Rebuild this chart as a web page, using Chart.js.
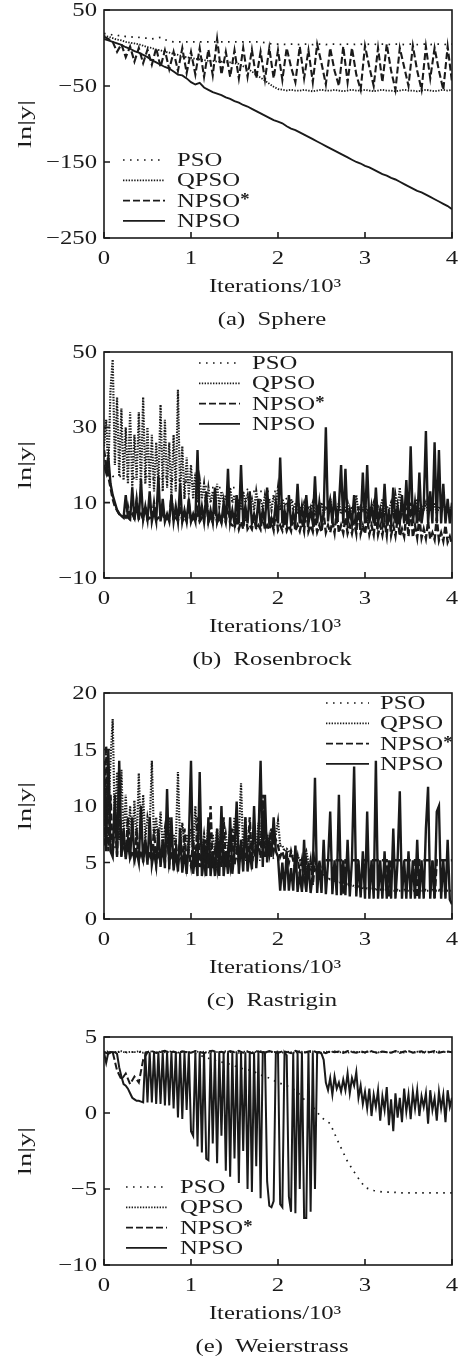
<!DOCTYPE html>
<html>
<head>
<meta charset="utf-8">
<script src="https://cdn.jsdelivr.net/npm/chart.js@4.4.0/dist/chart.umd.min.js"></script>
<style>
  html, body { margin: 0; padding: 0; background: #fff; }
  body { width: 459px; height: 1360px; position: relative; overflow: hidden; }
  canvas { position: absolute; left: 0; }
</style>
</head>
<body>
<canvas id="sphere" width="459" height="340" style="top:0px"></canvas>
<canvas id="rosenbrock" width="459" height="340" style="top:340px"></canvas>
<canvas id="rastrigin" width="459" height="340" style="top:680px"></canvas>
<canvas id="weierstrass" width="459" height="340" style="top:1020px"></canvas>
<script>
// iterations, in thousands
var itersBy25 = Array.from({ length: 161 }, function (_, i) { return i * 0.025; });
var itersBy50 = Array.from({ length: 81 }, function (_, i) { return i * 0.05; });
var itersBy100 = Array.from({ length: 41 }, function (_, i) { return i * 0.1; });

var seriesNames = ['PSO', 'QPSO', 'NPSO*', 'NPSO'];
var xTicks = [0, 1, 2, 3, 4];

// (a) Sphere
var spherePso = [
    19, 19, 17, 16, 17, 15, 14, 15, 14, 13,
    13, 12, 13, 14, 11, 9, 8, 8, 8, 8,
    8, 8, 8, 8, 8, 8, 8, 8, 8, 8,
    8, 8, 8, 8, 8, 8, 8, 7, 6, 5,
    5, 5, 4.5, 5, 5, 4.5, 5, 5, 4.5, 5,
    5, 4.5, 5, 5, 4.5, 5, 5, 4.5, 5, 5,
    4.5, 5, 5, 4.5, 5, 5, 4.5, 5, 5, 4.5,
    5, 5, 4.5, 5, 5, 4.5, 5, 5, 4.5, 5,
    5];
var sphereQpso = [
    16, 15, 13, 11, 10, 8, 7, 6, 5, 3,
    1, 0, -2, -3, -5, -6, -8, -9, -11, -12,
    -13, -14, -15, -16, -17, -17, -18, -18, -19, -19,
    -20, -21, -24, -27, -31, -35, -39, -43, -47, -51,
    -54, -55, -56, -55, -56, -56, -55, -56, -57, -56,
    -55, -56, -56, -55, -56, -57, -56, -55, -56, -56,
    -55, -56, -57, -56, -55, -56, -56, -57, -56, -55,
    -56, -56, -57, -56, -55, -56, -57, -56, -55, -56,
    -55];
var sphereNpsoStar = [
    15, 12, 8, -5, 5, -12, 2, -18, 0, -20,
    -2, -22, 0, -25, -3, -28, -5, -30, 0, -33,
    -5, -35, 0, -38, -2, -36, 12, -35, -5, -38,
    -3, -40, 0, -38, -2, -40, -5, -42, 0, -40,
    -3, -42, 0, -25, -45, 2, -40, -3, -45, 5,
    -20, -48, 0, -30, -50, 2, -45, 0, -35, -55,
    3, -25, -50, 0, -45, 5, -30, -55, 0, -25,
    -50, 3, -30, -55, 2, -40, 0, -30, -55, 2,
    -45];
var sphereNpso = [
    12, 10, 8, 6, 4, 1, -1, -4, -6, -9,
    -12, -16, -19, -22, -25, -27, -31, -35, -36, -40,
    -45, -48, -46, -52, -55, -58, -60, -62, -65, -67,
    -70, -72, -75, -77, -80, -83, -86, -89, -92, -95,
    -97, -99, -103, -106, -108, -111, -114, -117, -120, -123,
    -126, -129, -132, -135, -138, -141, -144, -147, -150, -152,
    -155, -157, -160, -163, -166, -168, -171, -173, -176, -179,
    -182, -185, -188, -190, -193, -196, -199, -202, -205, -208,
    -212];

// (b) Rosenbrock
var rosenPso = [
    20, 17, 17, 17, 16, 17, 16, 17, 16, 16,
    15, 15, 14, 14, 14, 14, 14, 13, 13, 13,
    13, 11, 10, 9, 9, 9, 8, 8, 8, 8,
    8, 8, 8, 8, 8, 8, 8, 8, 8, 8,
    8];
var rosenQpso = [
    25, 32, 18, 40, 48, 20, 38, 17, 35, 16,
    30, 15, 34, 14, 28, 16, 34, 14, 38, 15,
    30, 14, 28, 13, 26, 14, 36, 13, 32, 14,
    26, 12, 28, 13, 40, 12, 25, 11, 22, 12,
    20, 11, 18, 10, 16, 11, 15, 9, 14, 10,
    13, 9, 15, 9, 13, 10, 12, 9, 14, 10,
    12, 9, 11, 8, 13, 10, 12, 9, 11, 8,
    13, 9, 11, 8, 12, 9, 11, 8, 12, 9,
    14, 8, 11, 9, 10, 8, 11, 8, 10, 7,
    9, 8, 10, 7, 9, 8, 10, 7, 9, 8,
    10, 7, 9, 8, 11, 7, 9, 8, 10, 7,
    9, 8, 10, 7, 9, 8, 12, 7, 9, 8,
    10, 7, 9, 8, 10, 7, 9, 8, 11, 7,
    9, 8, 10, 7, 12, 8, 14, 7, 9, 8,
    10, 7, 9, 8, 11, 7, 9, 8, 10, 7,
    9, 8, 10, 7, 9, 8, 11, 7, 9, 8,
    9];
var rosenNpsoStar = [
    24, 20, 17, 14, 11, 9, 8, 7, 6.5, 6.2,
    6, 9, 6, 7, 5.8, 11, 5.8, 7, 5.6, 9,
    5.5, 6, 5.5, 10, 5.4, 6, 5.4, 8, 5.3, 6,
    5.3, 12, 5.2, 6, 5.2, 9, 5.1, 6, 5.1, 10,
    5, 6, 5, 8, 5, 6, 4.9, 13, 4.9, 6,
    4.8, 9, 4.8, 6, 4.7, 7, 4.7, 10, 4.5, 4,
    3.2, 6, 3, 5, 3, 8, 3, 4, 3, 6,
    2.9, 4, 2.9, 7, 2.8, 4, 2.8, 5, 2.7, 8,
    2.7, 4, 2.6, 6, 2.6, 4, 2.5, 7, 2.5, 4,
    2.4, 5, 2.4, 9, 2.3, 4, 2.3, 6, 2.2, 4,
    2.2, 7, 2.1, 4, 2.1, 5, 2, 8, 2, 4,
    1.9, 6, 1.9, 4, 1.8, 5, 1.8, 9, 1.7, 4,
    1.7, 6, 1.6, 4, 1.5, 7, 1.5, 4, 1.4, 5,
    1.3, 8, 1.3, 4, 1.2, 6, 1.1, 3, 1, 7,
    1, 10, 0.8, 4, 0.7, 6, 0.6, 3, 0.5, 5,
    0.3, 2, 0.2, 6, 0, 2, -0.2, 4, -0.5, 1,
    -1];
var rosenNpso = [
    20, 18, 22, 15, 12, 10, 8, 7, 6.5, 6,
    12, 6, 5.5, 14, 5.5, 10, 5.5, 16, 5.5, 9,
    5.5, 13, 5, 8, 5, 17, 5, 11, 5, 7,
    5, 12, 5, 9, 5, 15, 5, 8, 5, 11,
    5, 7, 5, 24, 5, 9, 5, 12, 5, 8,
    4.8, 14, 4.8, 7, 4.8, 10, 4.8, 19, 4.8, 8,
    4.5, 12, 4.5, 20, 4.5, 9, 4.5, 13, 4.5, 7,
    4.5, 11, 4.5, 8, 4.5, 14, 4.5, 6, 4.5, 10,
    4.5, 22, 4.5, 8, 4.5, 12, 4.5, 7, 4.5, 15,
    4.5, 9, 4.5, 12, 4.5, 8, 4.5, 17, 4.5, 10,
    4.5, 7, 30, 5, 11, 4.5, 13, 4.5, 9, 20,
    4.5, 19, 4.5, 8, 4.5, 12, 4.5, 7, 4.5, 18,
    4.5, 20, 4.5, 9, 4.5, 14, 4.5, 8, 4.5, 15,
    4.5, 7, 4.5, 14, 4.5, 9, 4.5, 12, 4.5, 16,
    4.5, 25, 4.5, 10, 4.5, 18, 4.5, 9, 29, 4.5,
    13, 4.5, 26, 4.5, 24, 4.5, 15, 4.5, 11, 4.5,
    10];

// (c) Rastrigin
var rastPso = [
    8, 6.5, 6, 6, 5.8, 5.8, 5.6, 5.5, 5.5, 5.3,
    5.3, 5.2, 5.2, 5.2, 5.2, 5.2, 5.2, 5.2, 5.2, 5.2,
    5.6, 5.4, 5.3, 5.2, 4.5, 4, 3.5, 3.2, 3, 2.8,
    2.7, 2.6, 2.6, 2.6, 2.6, 2.6, 2.6, 2.6, 2.6, 2.6,
    2.6];
var rastQpso = [
    7, 12, 9, 14, 17.7, 8, 13, 7, 13.2, 7,
    11, 6.5, 10, 7, 10.5, 6.5, 12.9, 7, 11, 7,
    9, 8, 14, 7, 9, 6.5, 9.5, 6.5, 8, 6.5,
    9, 6.5, 7.5, 6.5, 13, 6.5, 8.5, 6.5, 7.5, 6,
    8, 6.2, 10, 6, 9, 6, 7.5, 5.8, 8.5, 5.8,
    7.5, 5.8, 8, 5.8, 9, 5.8, 7.5, 6, 8, 6,
    9, 6, 7.5, 12, 6, 9, 6, 8, 6, 7.5,
    6, 8.5, 6.5, 10.5, 6.5, 7.5, 6.5, 8, 7, 7.5,
    8.7, 6.5, 6.5, 6, 6.2, 6, 5.8, 5.5, 5.5, 5.6,
    5.2, 5.3, 5.5, 6, 5, 4.8, 4.6, 4.4, 4.2, 4,
    3.9, 3.8, 3.7, 3.6, 3.5, 3.5, 3.4, 3.3, 3.3, 3.2,
    3.2, 3.1, 3.1, 3, 3, 2.9, 2.9, 2.9, 2.8, 2.8,
    2.8, 2.7, 2.7, 2.7, 2.7, 2.6, 2.6, 2.6, 2.6, 2.6,
    2.6, 2.5, 2.5, 2.5, 2.5, 2.5, 2.5, 2.5, 2.5, 2.5,
    2.5, 2.5, 2.5, 2.5, 2.5, 2.5, 2.5, 2.5, 2.5, 2.5,
    2.5, 2.5, 2.5, 2.5, 2.5, 2.5, 2.5, 2.5, 2.5, 2.5,
    2.5];
var rastNpsoStar = [
    6.5, 15.3, 6, 11, 5.8, 9, 5.7, 12, 5.6, 7,
    5.5, 9, 5.4, 6, 5.3, 8, 5.2, 6, 5.2, 7,
    5.1, 6, 5.1, 8, 5, 6, 5, 7, 5, 9,
    4.9, 6, 4.9, 7, 4.8, 6, 4.8, 8, 4.7, 6,
    4.7, 7, 4.6, 9, 4.6, 6, 4.6, 7, 4.5, 10,
    4.5, 6, 4.5, 7, 4.6, 9, 4.6, 6, 4.7, 8,
    4.8, 6, 4.8, 7, 4.9, 6, 5, 9, 5, 6,
    5.2, 7, 5.4, 11, 5.5, 7, 5.8, 8, 6, 7,
    6.5, 5.5, 6, 5.2, 5.8, 5, 6, 5.2, 4.5, 5.5,
    4, 5.2, 3.5, 5.2, 4, 5.2, 3, 5.2, 4, 5.2,
    3.5, 5.2, 5.2, 5.2, 5.2, 5.2, 5.2, 5.2, 5.2, 5.2,
    2.2, 5.2, 5.2, 5.2, 5.2, 5.2, 5.2, 5.2, 5.2, 5.2,
    5.2, 5.2, 5.2, 5.2, 5.2, 5.2, 5.2, 5.2, 5.2, 5.2,
    5.2, 2, 5.2, 5.2, 5.2, 5.2, 5.2, 5.2, 5.2, 5.2,
    5.2, 5.2, 5.2, 5.2, 1.9, 5.2, 5.2, 5.2, 5.2, 5.2,
    5.2, 5.2, 1.8, 5.2, 5.2, 5.2, 5.2, 5.2, 5.2, 5.2,
    5.2];
var rastNpso = [
    14, 6, 15, 6, 5.5, 11, 5.5, 14, 5.5, 8,
    5.3, 7, 5.3, 9, 5.2, 6, 5, 10, 5, 7,
    4.8, 9, 4.8, 6, 4.7, 8, 4.6, 7, 4.5, 11.5,
    4.4, 9, 4.3, 6, 4.2, 8, 4.1, 6, 4, 7,
    14, 4, 6, 3.8, 13, 3.8, 7, 3.8, 9, 3.8,
    6, 3.8, 8, 3.8, 10, 3.8, 6, 4, 9, 4,
    6, 10.4, 4, 7, 4.2, 9, 4.2, 6, 4.4, 10,
    4.5, 7, 14, 4.6, 11, 5, 7, 5.5, 9, 6,
    5.5, 2.5, 5, 2.5, 6, 2.5, 4.5, 2.5, 6.5, 2.4,
    4, 2.4, 7, 2.4, 5, 2.3, 4, 12.5, 2.3, 5,
    2.3, 7, 2.2, 5, 9.5, 2.2, 5.2, 2.1, 11, 2.1,
    5.2, 2.1, 7, 2, 5.2, 13.5, 2, 5.2, 1.9, 6,
    1.8, 9.5, 1.8, 5.2, 1.8, 14, 1.8, 5.2, 1.8, 6,
    1.8, 5.2, 1.8, 8, 1.8, 5.2, 11.3, 1.8, 5.2, 1.8,
    6, 1.8, 5.2, 1.8, 7, 1.8, 5.2, 1.8, 8, 11.7,
    1.8, 5.2, 1.8, 9.5, 10, 1.8, 5.2, 1.8, 7, 1.7,
    1.3];

// (e) Weierstrass
var weierPso = [
    4, 4, 4, 4, 4, 4, 4, 4, 4, 4,
    4, 3.8, 3.6, 3.4, 3.3, 3.1, 2.9, 2.8, 2.5, 2.3,
    2, 1.8, 1.5, 0.9, 0.4, -0.3, -0.7, -2, -3.2, -4.1,
    -4.9, -5.1, -5.2, -5.2, -5.25, -5.25, -5.25, -5.25, -5.25, -5.25,
    -5.25];
var weierQpso = [
    4, 4.05, 3.98, 4.02, 4.06, 3.97, 4.03, 4, 4.07, 3.96,
    4.02, 4.05, 3.98, 4.04, 3.99, 4.06, 4, 3.97, 4.05, 4.02,
    3.98, 4.06, 4, 4.03, 3.97, 4.05, 4.01, 3.98, 4.06, 4,
    4.04, 3.96, 4.03, 4.05, 3.99, 4.02, 4.07, 3.97, 4.03, 4,
    4.05, 3.98, 4.04, 4, 3.96, 4.06, 4.01, 3.98, 4.05, 4.02,
    3.97, 4.04, 4, 4.06, 3.98, 4.03, 3.96, 4.05, 4, 4.02,
    3.97, 4.06, 4.01, 3.98, 4.04, 4, 3.97, 4.05, 4.02, 3.98,
    4.06, 4, 4.03, 3.97, 4.04, 4.01, 3.98, 4.05, 4, 4.03,
    4.02];
var weierNpsoStar = [
    4, 3.9, 4, 2.8, 2.2, 2.6, 1.9, 2.4, 2, 3.5,
    4, 4.08, 3.95, 4.03, 4.1, 3.97, 4.05, 3.93, 4.06, 4,
    3.96, 4.08, 4.01, 3.94, 4.05, 4.1, 3.98, 4.03, 3.95, 4.07,
    4, 4.09, 3.96, 4.04, 3.93, 4.06, 4.01, 3.97, 4.08, 4,
    3.95, 4.06, 4.02, 3.94, 4.09, 4, 3.96, 4.05, 4.1, 3.97,
    4.03, 3.93, 4.07, 4, 4.05, 3.95, 4.08, 4.01, 3.96, 4.06,
    3.98, 4.1, 4.02, 3.94, 4.05, 4, 3.97, 4.08, 3.95, 4.04,
    4.09, 3.96, 4.02, 4.06, 3.94, 4.01, 4.07, 3.97, 4.03, 4.05,
    4];
var weierNpso = [
    4, 3.3, 4, 4, 4, 4, 3.9, 3, 2.4, 1.9,
    1.8, 1.6, 1.3, 1, 0.9, 0.8, 0.8, 0.75, 0.7, 4,
    0.7, 4, 0.7, 4, 0.6, 4, 0.6, 4, 0.5, 4,
    0.5, 4, 0.3, 4, -0.3, 4, -0.4, 4, 0.2, 4,
    -1.2, -1.5, 4, -2.2, 4, -2.6, 4, -3, -3.1, 4,
    -2, 4, -3.3, 4, -1.5, 4, -3.8, 4, -4.2, 4,
    -3, 4, -4.6, 4, -2.5, 4, -5, 4, -5.2, 4,
    -3.5, 4, -5.6, 4, 4, -4.5, -6.1, -6.2, -5.8, 4,
    4, -6, -6.2, 4, 3.8, -5.5, -6.5, 4, -6.6, 4,
    -5, 4, -6.9, -6.9, 4, -6.5, 4, -5, 4, 4,
    3.9, 3.5, 2, 1.5, 2.3, 1.2, 2.4, 1.6, 2, 1.4,
    2.2, 1.5, 2.6, 1.3, 2.3, 1.8, 2.7, 1, 1.8, 0.6,
    1.4, 0.3, 1.6, -0.2, 1.2, 0.4, 1.5, -0.5, 1.1, 0.2,
    1.7, -0.8, 0.9, -1.2, 1.3, -0.3, 1, -0.6, 1.6, 0.1,
    1.2, -0.4, 1.4, 0.3, 1.5, -0.2, 1.1, 0.4, 1.3, -0.7,
    1.5, 0.2, 1, -0.5, 1.4, 0.3, 1.2, -0.6, 1.5, 0.4,
    1];

var INK = '#1a1a1a';
var FONT = "19px 'Liberation Serif', 'Times New Roman', serif";
var SUP_FONT = "bold 17px 'Liberation Serif', 'Times New Roman', serif";
var STRETCH = 1.3;
var dashes = { 'PSO': [1.6, 5.4], 'QPSO': [1.4, 1.4], 'NPSO*': [7, 3], 'NPSO': [] };
var legendWidths = { 'PSO': 1.7, 'QPSO': 1.7, 'NPSO*': 1.9, 'NPSO': 1.9 };

function minus(v) {
    return v < 0 ? '\u2212' + Math.abs(v) : String(v);
}

// text drawn wider than the font, the way the figure's type is set
function wideText(ctx, text, x, y, align, stretch) {
    ctx.save();
    ctx.translate(x, y);
    ctx.scale(stretch || STRETCH, 1);
    ctx.textAlign = align;
    ctx.textBaseline = 'alphabetic';
    ctx.fillText(text, 0, 0);
    ctx.restore();
}

var paperAxes = {
    id: 'paperAxes',
    afterDraw: function (chart, args, opts) {
        var ctx = chart.ctx;
        var area = chart.chartArea;
        var xs = chart.scales.x, ys = chart.scales.y;
        var lg = opts.legend;
        ctx.save();
        ctx.strokeStyle = INK;
        ctx.fillStyle = INK;
        ctx.setLineDash([]);
        ctx.lineWidth = 1.6;
        ctx.strokeRect(area.left, area.top, area.right - area.left, area.bottom - area.top);

        // inward ticks
        ctx.beginPath();
        ys.ticks.forEach(function (t) {
            var y = ys.getPixelForValue(t.value);
            ctx.moveTo(area.left, y); ctx.lineTo(area.left + 6, y);
        });
        xs.ticks.forEach(function (t) {
            var x = xs.getPixelForValue(t.value);
            ctx.moveTo(x, area.bottom); ctx.lineTo(x, area.bottom - 6);
        });
        ctx.stroke();

        ctx.font = FONT;
        ys.ticks.forEach(function (t) {
            wideText(ctx, minus(t.value), area.left - 7, ys.getPixelForValue(t.value) + 6, 'right');
        });
        xs.ticks.forEach(function (t) {
            wideText(ctx, String(t.value), xs.getPixelForValue(t.value), area.bottom + 26, 'center');
        });
        var mid = (area.left + area.right) / 2 - 3;
        wideText(ctx, 'Iterations/10\u00b3', mid, area.bottom + 54, 'center');
        wideText(ctx, opts.caption, mid - 3, area.bottom + 87, 'center');

        ctx.save();
        ctx.translate(31, (area.top + area.bottom) / 2);
        ctx.rotate(-Math.PI / 2);
        wideText(ctx, 'ln|y|', 0, 0, 'center', 1.5);
        ctx.restore();

        // legend
        chart.data.datasets.forEach(function (ds, i) {
            var y = lg.top + i * 20.3;
            ctx.lineWidth = legendWidths[ds.label];
            ctx.setLineDash(ds.borderDash);
            ctx.beginPath();
            ctx.moveTo(lg.x0, y); ctx.lineTo(lg.x1, y);
            ctx.stroke();
            ctx.setLineDash([]);
            var star = ds.label.slice(-1) === '*';
            var name = star ? ds.label.slice(0, -1) : ds.label;
            ctx.font = FONT;
            wideText(ctx, name, lg.tx, y + 6, 'left');
            if (star) {
                var w = ctx.measureText(name).width * STRETCH;
                ctx.font = SUP_FONT;
                wideText(ctx, '*', lg.tx + w, y + 3, 'left', 1.1);
            }
        });
        ctx.restore();
    }
};

function makeChart(id, panel) {
    var datasets = panel.series.map(function (s, i) {
        var name = seriesNames[i];
        return {
            label: name,
            data: s.y.map(function (v, k) { return { x: s.x[k], y: v }; }),
            borderColor: INK,
            borderWidth: panel.widths[i],
            borderDash: dashes[name],
            pointRadius: 0,
            tension: 0,
            fill: false
        };
    });
    return new Chart(document.getElementById(id), {
        type: 'line',
        data: { datasets: datasets },
        options: {
            responsive: false,
            animation: false,
            devicePixelRatio: 1,
            layout: { padding: { left: 0, right: 7, top: panel.plotTop, bottom: 0 } },
            plugins: {
                legend: { display: false },
                tooltip: { enabled: false },
                paperAxes: { caption: panel.caption, legend: panel.legend }
            },
            scales: {
                x: {
                    type: 'linear', min: 0, max: 4,
                    afterBuildTicks: function (s) { s.ticks = xTicks.map(function (v) { return { value: v }; }); },
                    ticks: { display: false },
                    grid: { display: false },
                    border: { display: false },
                    afterFit: function (s) { s.height = 340 - panel.plotBottom; }
                },
                y: {
                    type: 'linear', min: panel.yTicks[0], max: panel.yTicks[panel.yTicks.length - 1],
                    afterBuildTicks: function (s) { s.ticks = panel.yTicks.map(function (v) { return { value: v }; }); },
                    ticks: { display: false },
                    grid: { display: false },
                    border: { display: false },
                    afterFit: function (s) { s.width = 104; }
                }
            }
        },
        plugins: [paperAxes]
    });
}

makeChart('sphere', {
    plotTop: 10, plotBottom: 238,
    yTicks: [-250, -150, -50, 50],
    caption: '(a)  Sphere',
    widths: [1.7, 1.8, 2.1, 1.9],
    legend: { x0: 123, x1: 165, tx: 177, top: 160 },
    series: [
        { x: itersBy50, y: spherePso },
        { x: itersBy50, y: sphereQpso },
        { x: itersBy50, y: sphereNpsoStar },
        { x: itersBy50, y: sphereNpso }
    ]
});
makeChart('rosenbrock', {
    plotTop: 12, plotBottom: 238,
    yTicks: [-10, 10, 30, 50],
    caption: '(b)  Rosenbrock',
    widths: [1.7, 2.2, 2.4, 2.4],
    legend: { x0: 199, x1: 240, tx: 252, top: 23 },
    series: [
        { x: itersBy100, y: rosenPso },
        { x: itersBy25, y: rosenQpso },
        { x: itersBy25, y: rosenNpsoStar },
        { x: itersBy25, y: rosenNpso }
    ]
});
makeChart('rastrigin', {
    plotTop: 13, plotBottom: 239,
    yTicks: [0, 5, 10, 15, 20],
    caption: '(c)  Rastrigin',
    widths: [1.7, 2.2, 2.4, 2.4],
    legend: { x0: 326, x1: 369, tx: 380, top: 23 },
    series: [
        { x: itersBy100, y: rastPso },
        { x: itersBy25, y: rastQpso },
        { x: itersBy25, y: rastNpsoStar },
        { x: itersBy25, y: rastNpso }
    ]
});
makeChart('weierstrass', {
    plotTop: 17, plotBottom: 245,
    yTicks: [-10, -5, 0, 5],
    caption: '(e)  Weierstrass',
    widths: [1.7, 1.8, 2, 2],
    legend: { x0: 126, x1: 167, tx: 180, top: 167 },
    series: [
        { x: itersBy100, y: weierPso },
        { x: itersBy50, y: weierQpso },
        { x: itersBy50, y: weierNpsoStar },
        { x: itersBy25, y: weierNpso }
    ]
});
</script>
</body>
</html>
